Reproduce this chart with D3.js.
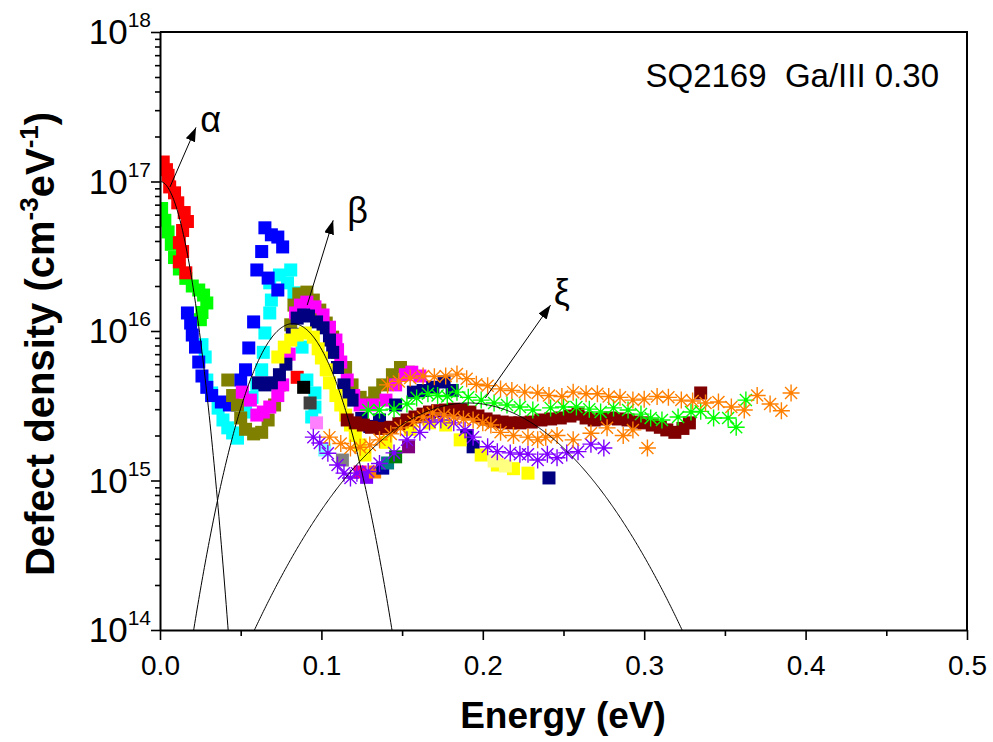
<!DOCTYPE html>
<html>
<head>
<meta charset="utf-8">
<script src="https://cdn.jsdelivr.net/npm/d3@7/dist/d3.min.js"></script>
<style>
  html, body { margin: 0; padding: 0; background: #fff; }
  svg { display: block; }
  text { font-family: "Liberation Sans", Arial, sans-serif; }
</style>
</head>
<body>
<svg id="chart" width="993" height="742"></svg>
<script>
// ---- Defect density spectra, [energy (eV), density (cm^-3 eV^-1)] ----
const redSquares = [[0.002,1.35e17],[0.004,1.2e17],[0.005,1.1e17],[0.006,9.2e16],[0.009,8.4e16],[0.011,7.2e16],[0.015,6.2e16],[0.017,5.4e16],[0.014,4.7e16],[0.012,3.9e16],[0.014,3.4e16],[0.012,2.9e16],[0.016,2.45e16],[0.085,4.9e15]];
const greenSquares = [[0.001,6.6e16],[0.003,5.5e16],[0.005,4.6e16],[0.007,3.8e16],[0.009,3.1e16],[0.012,2.6e16],[0.016,2.25e16],[0.020,2.0e16],[0.024,1.88e16],[0.027,1.74e16],[0.029,1.54e16],[0.026,1.33e16],[0.025,1.19e16]];
const blueSquares = [[0.017,1.32e16],[0.019,1.13e16],[0.020,9.4e15],[0.022,7.8e15],[0.024,6.2e15],[0.026,5.0e15],[0.029,4.2e15],[0.032,3.7e15],[0.038,3.35e15],[0.043,3.2e15],[0.050,4.7e15],[0.053,5.5e15],[0.055,7.7e15],[0.058,1.15e16],[0.060,2.56e16],[0.063,3.4e16],[0.065,4.9e16],[0.069,4.4e16],[0.073,4.25e16],[0.076,3.65e16],[0.067,2.26e16],[0.073,1.88e16]];
const cyanSquares = [[0.026,8.1e15],[0.028,6.7e15],[0.029,4.7e15],[0.032,3.85e15],[0.036,3.05e15],[0.039,2.54e15],[0.042,2.25e15],[0.045,2.08e15],[0.048,1.92e15],[0.053,2.87e15],[0.057,3.6e15],[0.060,4.4e15],[0.063,5.5e15],[0.064,7.2e15],[0.065,9.7e15],[0.068,1.32e16],[0.069,1.61e16],[0.068,2.1e16],[0.074,2.37e16],[0.079,2.1e16],[0.081,2.56e16],[0.083,1.8e16],[0.088,7.8e15],[0.091,4.7e15],[0.096,3.85e15],[0.096,3.1e15],[0.094,2.66e15]];
const oliveSquares = [[0.042,4.7e15],[0.045,3.7e15],[0.048,3.2e15],[0.050,2.62e15],[0.053,2.2e15],[0.058,2.05e15],[0.063,2.1e15],[0.067,2.54e15],[0.071,3.2e15],[0.074,4.36e15],[0.078,7.0e15],[0.081,1.1e16],[0.083,1.49e16],[0.086,1.77e16],[0.091,1.82e16],[0.095,1.61e16],[0.099,1.38e16],[0.103,1.13e16],[0.107,9.1e15],[0.110,7.2e15],[0.115,5.7e15],[0.119,4.36e15],[0.124,3.6e15],[0.129,3.3e15],[0.133,3.85e15],[0.138,4.36e15],[0.144,5.1e15],[0.149,5.7e15],[0.154,5.3e15]];
const magentaSquares = [[0.051,3.9e15],[0.056,3.45e15],[0.060,2.74e15],[0.064,2.87e15],[0.068,3.1e15],[0.073,3.7e15],[0.076,4.36e15],[0.080,7.0e15],[0.084,1.32e16],[0.087,1.49e16],[0.091,1.56e16],[0.096,1.45e16],[0.101,1.28e16],[0.105,1.06e16],[0.109,8.7e15],[0.110,7.5e15],[0.112,6.2e15],[0.116,4.7e15],[0.120,3.7e15],[0.124,3.2e15],[0.132,3.2e15],[0.140,3.45e15],[0.146,4.36e15],[0.152,5.1e15],[0.156,5.3e15],[0.161,5.0e15],[0.169,4.2e15]];
const navySquares = [[0.061,4.5e15],[0.065,4.36e15],[0.069,4.5e15],[0.074,5.1e15],[0.078,6.0e15],[0.082,9.5e15],[0.085,1.22e16],[0.089,1.28e16],[0.092,1.26e16],[0.097,1.15e16],[0.101,1.05e16],[0.105,8.7e15],[0.107,7.2e15],[0.110,5.7e15],[0.114,4.36e15],[0.117,3.7e15],[0.119,3.45e15],[0.125,2.6e15],[0.130,2.3e15],[0.136,2.54e15],[0.146,3.2e15],[0.157,3.9e15],[0.163,4.0e15],[0.169,4.2e15],[0.176,4.56e15],[0.181,4.0e15],[0.186,2.96e15],[0.190,2.0e15],[0.194,1.68e15],[0.241,1.04e15]];
const yellowSquares = [[0.073,6.7e15],[0.077,7.8e15],[0.081,8.7e15],[0.085,9.4e15],[0.090,9.7e15],[0.095,9.1e15],[0.098,7.6e15],[0.100,6.6e15],[0.103,5.5e15],[0.105,4.5e15],[0.109,3.7e15],[0.112,3.2e15],[0.115,2.74e15],[0.118,2.35e15],[0.121,2.0e15],[0.124,1.73e15],[0.127,1.48e15],[0.140,1.8e15],[0.155,2.2e15],[0.167,2.43e15],[0.177,2.35e15],[0.186,1.87e15],[0.199,1.48e15],[0.209,1.27e15],[0.219,1.2e15],[0.228,1.12e15]];
const lightYellowSquares = [[0.207,1.35e15],[0.214,1.25e15]];
const blackSquares = [[0.089,4.2e15]];
const darkGraySquares = [[0.093,3.3e15]];
const lightMagentaSquares = [[0.097,2.43e15]];
const lightCyanSquares = [[0.102,1.6e15]];
const graySquares = [[0.113,1.37e15]];
const pinkSquares = [[0.124,1.14e15]];
const violetSquares = [[0.128,1.05e15]];
const orangeSquares = [[0.133,1.14e15]];
const royalSquares = [[0.138,1.21e15]];
const darkCyanSquares = [[0.141,1.31e15]];
const darkGreenSquares = [[0.146,1.44e15]];
const purpleSquares = [[0.154,1.68e15]];
const wineSquares = [[0.116,2.54e15],[0.121,2.43e15],[0.126,2.35e15],[0.131,2.27e15],[0.137,2.23e15],[0.143,2.27e15],[0.148,2.4e15],[0.153,2.54e15],[0.158,2.66e15],[0.163,2.78e15],[0.167,2.87e15],[0.172,2.93e15],[0.177,2.96e15],[0.182,3.0e15],[0.187,2.96e15],[0.192,2.87e15],[0.197,2.7e15],[0.202,2.58e15],[0.207,2.5e15],[0.212,2.46e15],[0.217,2.43e15],[0.223,2.43e15],[0.230,2.46e15],[0.236,2.54e15],[0.242,2.58e15],[0.248,2.62e15],[0.254,2.7e15],[0.259,2.78e15],[0.264,2.62e15],[0.269,2.54e15],[0.274,2.58e15],[0.279,2.62e15],[0.284,2.58e15],[0.290,2.54e15],[0.295,2.46e15],[0.300,2.43e15],[0.305,2.35e15],[0.310,2.27e15],[0.314,2.18e15],[0.319,2.1e15],[0.324,2.23e15],[0.328,2.43e15],[0.335,3.85e15]];
const violetStars = [[0.095,1.95e15],[0.099,1.78e15],[0.104,1.52e15],[0.110,1.27e15],[0.114,1.12e15],[0.118,1.04e15],[0.122,1.12e15],[0.129,1.15e15],[0.136,1.3e15],[0.145,1.53e15],[0.153,1.87e15],[0.161,2.1e15],[0.167,2.46e15],[0.174,2.54e15],[0.182,2.43e15],[0.189,2.18e15],[0.194,1.95e15],[0.203,1.68e15],[0.209,1.56e15],[0.217,1.53e15],[0.223,1.5e15],[0.228,1.5e15],[0.234,1.37e15],[0.240,1.5e15],[0.246,1.42e15],[0.252,1.53e15],[0.259,1.56e15],[0.267,1.75e15],[0.275,1.65e15]];
const orangeStarsLow = [[0.105,1.95e15],[0.112,1.77e15],[0.118,1.65e15],[0.124,1.67e15],[0.130,1.73e15],[0.136,1.87e15],[0.143,2.05e15],[0.149,2.25e15],[0.157,2.47e15],[0.163,2.66e15],[0.169,2.83e15],[0.176,2.74e15],[0.182,2.66e15],[0.188,2.58e15],[0.194,2.54e15],[0.200,2.43e15],[0.205,2.35e15],[0.211,2.1e15],[0.219,2.0e15],[0.228,1.95e15],[0.234,1.87e15],[0.239,1.95e15],[0.246,2.0e15],[0.256,1.87e15],[0.267,2.07e15],[0.277,2.25e15],[0.287,2.0e15],[0.293,2.18e15],[0.302,1.65e15]];
const greenStars = [[0.129,2.96e15],[0.136,2.96e15],[0.145,3.0e15],[0.153,3.25e15],[0.159,3.57e15],[0.166,3.8e15],[0.172,3.7e15],[0.178,3.65e15],[0.184,3.9e15],[0.191,3.6e15],[0.199,3.45e15],[0.207,3.3e15],[0.215,3.2e15],[0.223,3.1e15],[0.231,2.96e15],[0.242,3.06e15],[0.250,3.1e15],[0.258,3.1e15],[0.266,3.0e15],[0.273,2.87e15],[0.281,3.06e15],[0.290,2.96e15],[0.298,2.78e15],[0.304,2.62e15],[0.311,2.54e15],[0.321,2.66e15],[0.329,2.87e15],[0.335,2.9e15],[0.343,2.62e15],[0.352,2.62e15],[0.357,2.27e15],[0.363,3.45e15]];
const orangeStarsHigh = [[0.141,4.36e15],[0.148,4.6e15],[0.155,4.85e15],[0.163,5.0e15],[0.170,4.95e15],[0.177,5.0e15],[0.184,5.15e15],[0.190,4.8e15],[0.196,4.4e15],[0.203,4.3e15],[0.211,4.1e15],[0.218,4.0e15],[0.226,3.9e15],[0.234,3.85e15],[0.241,3.7e15],[0.249,3.65e15],[0.256,3.9e15],[0.264,3.8e15],[0.271,3.8e15],[0.278,3.65e15],[0.285,3.6e15],[0.293,3.45e15],[0.300,3.5e15],[0.308,3.65e15],[0.315,3.6e15],[0.323,3.45e15],[0.330,3.4e15],[0.338,3.3e15],[0.346,3.35e15],[0.354,3.1e15],[0.362,2.96e15],[0.370,3.7e15],[0.378,3.25e15],[0.385,2.93e15],[0.391,3.85e15]];

// Gaussian fit components: [amplitude, centre (eV), width (eV)]
const fitAlpha = [1.0e17, 0.0, 0.01136];
const fitBeta = [1.12e16, 0.0823, 0.0200];
const fitXi = [3.3e15, 0.191, 0.0501];

// Arrows pointing to the peak labels: [fromE, fromN, toE, toN]
const arrowAlpha = [0.0062, 9.2e16, 0.0223, 2.3e17];
const arrowBeta = [0.0912, 1.49e16, 0.1073, 5.5e16];
const arrowXi = [0.2016, 3.57e15, 0.2420, 1.49e16];
const peakLabels = ["α", "β", "ξ"];
const peakLabelPos = [[0.025, 2.15e17], [0.116, 5.3e16], [0.244, 1.5e16]];

// Axis ticks
const xMajor = [0, 0.1, 0.2, 0.3, 0.4, 0.5];
const xMinor = [0.05, 0.15, 0.25, 0.35, 0.45];
const yMajor = [1e14, 1e15, 1e16, 1e17, 1e18];
const yExponents = ["14", "15", "16", "17", "18"];
const sampleText = "SQ2169  Ga/III 0.30";

// ---- Series table ----
const series = [
  {data: greenSquares, color: "#00FF00", shape: "square"},
  {data: redSquares, color: "#FF0000", shape: "square"},
  {data: cyanSquares, color: "#00FFFF", shape: "square"},
  {data: blueSquares, color: "#0000FF", shape: "square"},
  {data: oliveSquares, color: "#808000", shape: "square"},
  {data: magentaSquares, color: "#FF00FF", shape: "square"},
  {data: navySquares, color: "#000080", shape: "square"},
  {data: yellowSquares, color: "#FFFF00", shape: "square"},
  {data: lightYellowSquares, color: "#FFFF80", shape: "square"},
  {data: blackSquares, color: "#000000", shape: "square"},
  {data: darkGraySquares, color: "#404040", shape: "square"},
  {data: lightMagentaSquares, color: "#FF80FF", shape: "square"},
  {data: lightCyanSquares, color: "#80FFFF", shape: "square"},
  {data: graySquares, color: "#808080", shape: "square"},
  {data: pinkSquares, color: "#FF0080", shape: "square"},
  {data: violetSquares, color: "#8000FF", shape: "square"},
  {data: orangeSquares, color: "#FF8000", shape: "square"},
  {data: royalSquares, color: "#0000A0", shape: "square"},
  {data: darkCyanSquares, color: "#008080", shape: "square"},
  {data: darkGreenSquares, color: "#008000", shape: "square"},
  {data: purpleSquares, color: "#800080", shape: "square"},
  {data: wineSquares, color: "#800000", shape: "square"},
  {data: violetStars, color: "#8000FF", shape: "star"},
  {data: orangeStarsLow, color: "#FF8000", shape: "star"},
  {data: greenStars, color: "#00FF00", shape: "star"},
  {data: orangeStarsHigh, color: "#FF8000", shape: "star"}
];

// ---- Layout ----
const svg = d3.select("#chart");
const plot = {left: 160, right: 967, top: 32, bottom: 630};
const x = d3.scaleLinear().domain([0, 0.5]).range([plot.left, plot.right]);
const y = d3.scaleLog().domain([1e14, 1e18]).range([plot.bottom, plot.top]);

svg.append("defs").append("clipPath").attr("id", "plotClip")
  .append("rect")
  .attr("x", plot.left).attr("y", plot.top)
  .attr("width", plot.right - plot.left).attr("height", plot.bottom - plot.top);

svg.select("defs").append("marker")
  .attr("id", "arrowHead")
  .attr("viewBox", "0 0 14 10")
  .attr("refX", 14).attr("refY", 5)
  .attr("markerWidth", 14).attr("markerHeight", 10)
  .attr("markerUnits", "userSpaceOnUse")
  .attr("orient", "auto")
  .append("path").attr("d", "M0,0 L14,5 L0,10 Z").attr("fill", "#000");

const marks = svg.append("g").attr("clip-path", "url(#plotClip)");

// ---- Data markers ----
const sq = 13, star = 8.5;
series.forEach(s => {
  const g = marks.append("g");
  if (s.shape === "square") {
    g.selectAll("rect").data(s.data).join("rect")
      .attr("x", d => x(d[0]) - sq / 2)
      .attr("y", d => y(d[1]) - sq / 2)
      .attr("width", sq).attr("height", sq)
      .attr("fill", s.color);
  } else {
    const starPath = d3.path();
    const r = star, dg = star * Math.SQRT1_2;
    starPath.moveTo(-r, 0); starPath.lineTo(r, 0);
    starPath.moveTo(0, -r); starPath.lineTo(0, r);
    starPath.moveTo(-dg, -dg); starPath.lineTo(dg, dg);
    starPath.moveTo(-dg, dg); starPath.lineTo(dg, -dg);
    g.selectAll("path").data(s.data).join("path")
      .attr("transform", d => `translate(${x(d[0])},${y(d[1])})`)
      .attr("d", starPath.toString())
      .attr("fill", "none")
      .attr("stroke", s.color)
      .attr("stroke-width", 1.4);
    g.selectAll("circle").data(s.data).join("circle")
      .attr("cx", d => x(d[0])).attr("cy", d => y(d[1]))
      .attr("r", 1.8).attr("fill", s.color);
  }
});

// ---- Gaussian fit curves ----
const energies = d3.range(0, 0.5001, 0.0005);
const gauss = p => e => Math.max(p[0] * Math.exp(-((e - p[1]) ** 2) / (2 * p[2] * p[2])), 1e12);
const curveLine = d3.line().x(d => x(d[0])).y(d => y(d[1]));
[fitAlpha, fitBeta, fitXi].forEach(p => {
  const f = gauss(p);
  marks.append("path")
    .attr("d", curveLine(energies.map(e => [e, f(e)])))
    .attr("fill", "none").attr("stroke", "#000").attr("stroke-width", 1);
});

// ---- Arrows and peak labels ----
[arrowAlpha, arrowBeta, arrowXi].forEach(a => {
  svg.append("line")
    .attr("x1", x(a[0])).attr("y1", y(a[1]))
    .attr("x2", x(a[2])).attr("y2", y(a[3]))
    .attr("stroke", "#000").attr("stroke-width", 1)
    .attr("marker-end", "url(#arrowHead)");
});
peakLabels.forEach((t, i) => {
  svg.append("text")
    .attr("x", x(peakLabelPos[i][0])).attr("y", y(peakLabelPos[i][1]))
    .attr("font-family", "'Liberation Serif', 'Times New Roman', serif")
    .attr("font-size", 36)
    .attr("fill", "#000")
    .text(t);
});

// ---- Axes ----
const axisColor = "#000";
const xAxis = svg.append("g").attr("transform", `translate(0,${plot.bottom})`)
  .call(d3.axisBottom(x).tickValues(xMajor).tickSize(10).tickSizeOuter(0)
    .tickPadding(15).tickFormat(d3.format(".1f")));
xAxis.selectAll("text").attr("font-size", 28).attr("font-family", "'Liberation Sans', Arial, sans-serif").attr("fill", "#000");
const xAxisMinor = svg.append("g").attr("transform", `translate(0,${plot.bottom})`)
  .call(d3.axisBottom(x).tickValues(xMinor).tickSize(6).tickFormat(""));
xAxisMinor.select(".domain").remove();

const yMinor = [];
for (let k = 14; k < 18; k++) for (let m = 2; m <= 9; m++) yMinor.push(m * Math.pow(10, k));
const yAxis = svg.append("g").attr("transform", `translate(${plot.left},0)`)
  .call(d3.axisLeft(y).tickValues(yMajor).tickSize(9).tickSizeOuter(0).tickFormat(""));
const yAxisMinor = svg.append("g").attr("transform", `translate(${plot.left},0)`)
  .call(d3.axisLeft(y).tickValues(yMinor).tickSize(5).tickFormat(""));
yAxisMinor.select(".domain").remove();

[xAxis, xAxisMinor, yAxis, yAxisMinor].forEach(g => {
  g.selectAll(".domain").attr("stroke", axisColor).attr("stroke-width", 2);
  g.selectAll(".tick line").attr("stroke", axisColor).attr("stroke-width", 1.6);
});

// y tick labels 10^n
yMajor.forEach((v, i) => {
  const t = svg.append("text")
    .attr("x", 151).attr("y", y(v) + 12)
    .attr("text-anchor", "end")
    .attr("font-size", 35).attr("fill", "#000");
  t.append("tspan").text("10");
  t.append("tspan").attr("dy", -17).attr("font-size", 21).text(yExponents[i]);
});

// frame: top and right edges
svg.append("line").attr("x1", plot.left).attr("x2", plot.right + 1)
  .attr("y1", plot.top).attr("y2", plot.top)
  .attr("stroke", axisColor).attr("stroke-width", 2);
svg.append("line").attr("x1", plot.right).attr("x2", plot.right)
  .attr("y1", plot.top).attr("y2", plot.bottom)
  .attr("stroke", axisColor).attr("stroke-width", 2);

// ---- Titles ----
svg.append("text")
  .attr("x", 563).attr("y", 728)
  .attr("text-anchor", "middle")
  .attr("font-size", 37).attr("font-weight", "bold").attr("fill", "#000")
  .text("Energy (eV)");

const yl = svg.append("text")
  .attr("transform", "translate(54,344) rotate(-90)")
  .attr("text-anchor", "middle")
  .attr("font-size", 40).attr("font-weight", "bold").attr("fill", "#000");
yl.append("tspan").text("Defect density (cm");
yl.append("tspan").attr("dy", -16).attr("font-size", 26).text("-3");
yl.append("tspan").attr("dy", 16).text("eV");
yl.append("tspan").attr("dy", -16).attr("font-size", 26).text("-1");
yl.append("tspan").attr("dy", 16).text(")");

svg.append("text")
  .attr("x", 939).attr("y", 87)
  .attr("text-anchor", "end")
  .attr("font-size", 33).attr("fill", "#000")
  .style("white-space", "pre")
  .text(sampleText);
</script>
</body>
</html>
